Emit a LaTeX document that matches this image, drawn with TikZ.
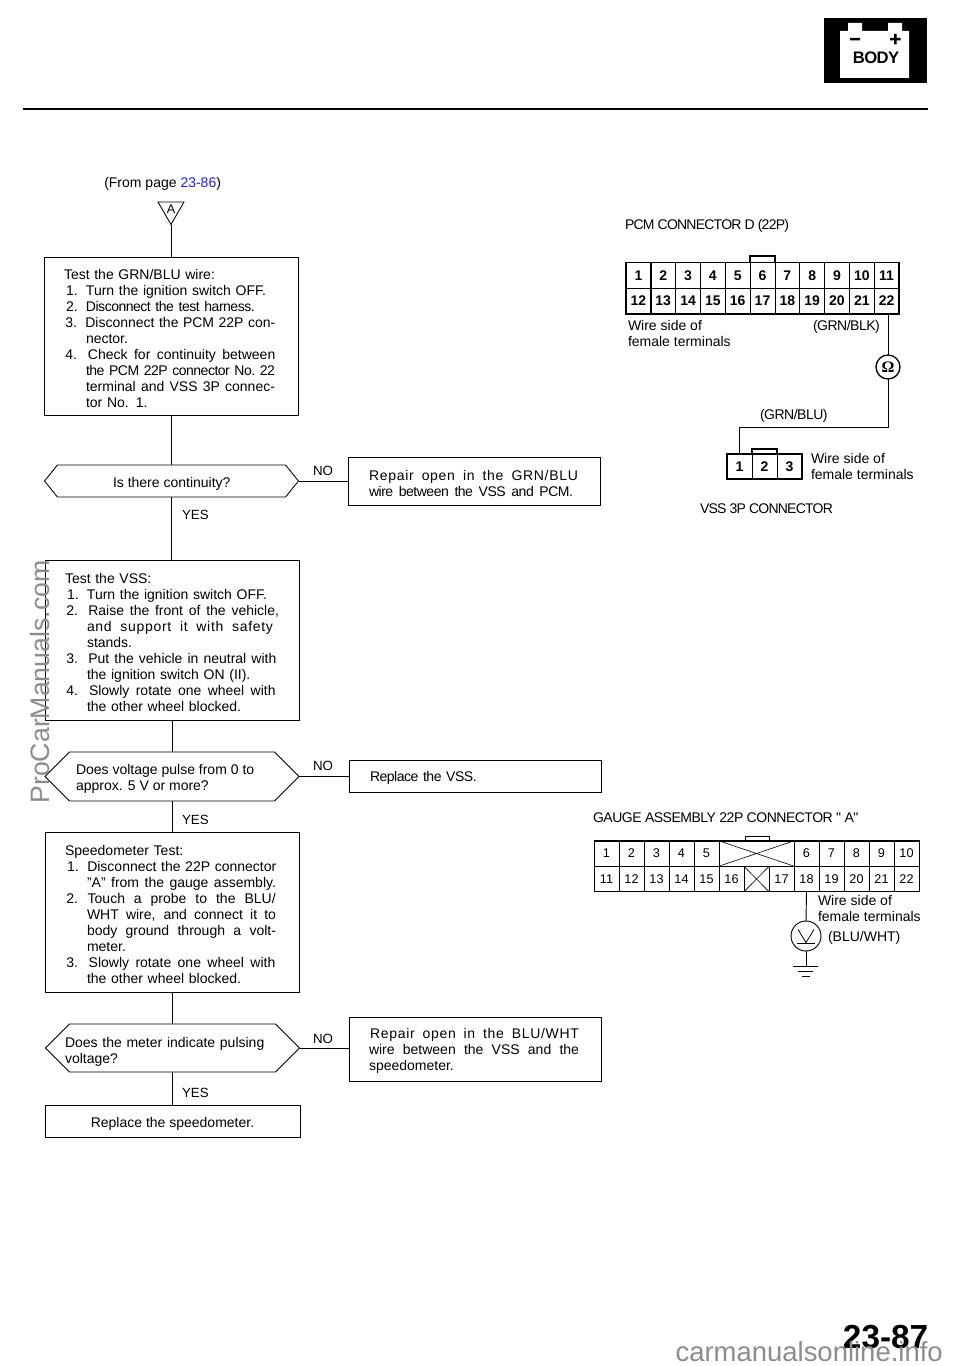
\documentclass[tikz,border=0pt]{standalone}
\usepackage{fontspec}
\setmainfont{Liberation Sans}
\newfontfamily\tightfont[LetterSpace=-3.5]{Liberation Sans}
\newfontfamily\titlefont[LetterSpace=-5.5]{Liberation Sans}
\newfontfamily\widefont[LetterSpace=5]{Liberation Sans}
\newfontfamily\serfont{Liberation Serif}
\usetikzlibrary{shapes.geometric,shapes.symbols,positioning}
\definecolor{pagelink}{RGB}{30,30,230}
\colorlet{markgrey}{black!45}
\newcommand{\numline}[2]{\hspace*{1.5pt}\makebox[15pt][l]{#1}#2}
\newcommand{\hangline}[1]{\hspace*{16.5pt}#1}
\newcommand{\fitline}[2]{\makebox[#1][s]{\spaceskip=.278em plus 2em minus .06em\relax\xspaceskip=\spaceskip #2}}
\newcommand{\numfit}[4]{\hspace*{1pt}\makebox[#1][l]{#2}\fitline{#3}{#4}}
\tikzset{
  bodytext/.style={font=\fontsize{10.5}{12}\selectfont},
  tinytext/.style={font=\fontsize{10.5}{12}\selectfont, inner sep=0pt, outer sep=0pt, anchor=west, align=left, yshift=-1.5pt},
  tighttext/.style={tinytext, font=\tightfont\fontsize{10.5}{12}\selectfont},
  titletext/.style={tinytext, font=\titlefont\fontsize{10.5}{12}\selectfont},
  answer/.style={tinytext, font=\fontsize{10}{12}\selectfont, yshift=0.75pt},
  stepbox/.style={bodytext, draw, line width=0.65pt, anchor=north west, align=left, inner xsep=15pt, inner ysep=0pt, outer sep=0pt, text width=#1, execute at begin node=\rule{0pt}{11pt}},
  askbox/.style={draw, line width=0.65pt, signal, signal to=east and west, signal pointer angle=#1, inner sep=0pt, outer sep=0pt, minimum width=190.5pt},
  flowline/.style={line width=0.65pt},
  pincell/.style={draw, line width=0.5pt, inner sep=0pt, outer sep=0pt, minimum width=18.7pt, minimum height=19.5pt, font=\fontsize{10.5}{12}\selectfont\bfseries},
  gaugecell/.style={draw, line width=0.45pt, inner sep=0pt, outer sep=0pt, minimum width=18.75pt, minimum height=19pt, font=\fontsize{9.5}{12}\selectfont},
  shellline/.style={line width=1pt},
  wire/.style={line width=0.7pt}
}
\begin{document}
\begin{tikzpicture}[x=0.75pt,y=-0.75pt]
  \useasboundingbox (0,0) rectangle (960,1366);
  \fill[white] (0,0) rectangle (960,1366);

  % Battery badge
  \fill[black] (824,18) rectangle (927,83);
  \fill[white] (840,31) rectangle (909,78) (848,23) rectangle (862,31) (888,23) rectangle (902,31);
  \fill[black] (850,38) rectangle (860,40.5) (894,34) rectangle (896.5,44.5) (890,38) rectangle (900.5,40.5);
  \node[font=\tightfont\fontsize{12.5}{14}\selectfont\bfseries, inner sep=0pt] (bodylabel) at (876,58) {BODY};
  \draw[line width=1.7pt] (23,109) -- (928,109);

  % Left column
  \node[bodytext, inner sep=0pt, anchor=west, yshift=-1.5pt] (frompage) at (104,182) {(From page \textcolor{pagelink}{23-86})};
  \node[draw, line width=0.65pt, regular polygon, regular polygon sides=3, shape border rotate=180, minimum size=22.5pt, inner sep=0pt, outer sep=0pt] (tria) at (171,209.5) {};
  \node[font=\fontsize{9.5}{12}\selectfont, inner sep=0pt] (trialabel) at (tria.center) {A};

  \node[stepbox=160.5pt, minimum height=118.5pt] (wiretest) at (44,257) {%
    Test the GRN/BLU wire:\\
    \numline{1.}{Turn the ignition switch OFF.}\\
    \numline{2.}{{\tightfont Disconnect the test harness.}}\\
    \numfit{15pt}{3.}{142.5pt}{Disconnect the PCM 22P con-}\\
    \hangline{nector.}\\
    \numfit{17pt}{4.}{140.5pt}{Check for continuity between}\\
    \hangline{\fitline{141.75pt}{\tightfont the PCM 22P connector No. 22}}\\
    \hangline{\fitline{141.75pt}{terminal and VSS 3P connec-}}\\
    \hangline{tor No. 1.}};

  \node[askbox=102, minimum height=24pt] (contask) at (171.5,481) {};
  \node[tinytext] (conttext) at (113,482) {Is there continuity?};

  \node[stepbox=160.5pt, minimum height=120pt] (vsstest) at (45,560) {%
    Test the VSS:\\
    \numline{1.}{Turn the ignition switch OFF.}\\
    \numfit{16.5pt}{2.}{143pt}{Raise the front of the vehicle,}\\
    \hangline{\fitline{139.5pt}{\widefont and support it with safety}}\\
    \hangline{stands.}\\
    \numfit{16.5pt}{3.}{141pt}{Put the vehicle in neutral with}\\
    \hangline{the ignition switch ON (II).}\\
    \numfit{17pt}{4.}{140pt}{Slowly rotate one wheel with}\\
    \hangline{the other wheel blocked.}};

  \node[askbox=90, minimum height=36.75pt] (pulseask) at (172,776.5) {};
  \node[tinytext] (pulsetext) at (76,777) {Does voltage pulse from 0 to\\approx. 5 V or more?};

  \node[stepbox=160.5pt, minimum height=120pt] (metertest) at (45,832) {%
    Speedometer Test:\\
    \hspace*{.5pt}\numfit{15.2pt}{1.}{141.75pt}{Disconnect the 22P connector}\\
    \hangline{\fitline{141.75pt}{"A" from the gauge assembly.}}\\
    \numfit{16pt}{2.}{141pt}{Touch a probe to the BLU/}\\
    \hangline{\fitline{141.75pt}{WHT wire, and connect it to}}\\
    \hangline{\fitline{141.75pt}{body ground through a volt-}}\\
    \hangline{meter.}\\
    \numfit{16.75pt}{3.}{140pt}{Slowly rotate one wheel with}\\
    \hangline{the other wheel blocked.}};

  \node[askbox=90, minimum height=36pt] (meterask) at (172.5,1048) {};
  \node[tinytext] (metertext) at (65,1050) {\fitline{149.5pt}{Does the meter indicate pulsing}\\voltage?};

  \node[draw, line width=0.65pt, bodytext, outer sep=0pt, minimum width=191.25pt, minimum height=24pt, inner sep=0pt] (replacemeter) at (172.5,1121) {\rule{0pt}{12pt}Replace the speedometer.};

  % Right column of repairs
  \node[stepbox=159pt, minimum height=36pt] (repairone) at (348,457) {%
    \hspace*{.75pt}\fitline{156.75pt}{\widefont Repair open in the GRN/BLU}\\
    \hspace*{.75pt}\fitline{153pt}{\tightfont wire between the VSS and PCM.}};
  \node[stepbox=159pt, minimum height=24pt] (repairtwo) at (349,760) {\hspace*{.75pt}{\tightfont Replace the VSS.}};
  \node[stepbox=159pt, minimum height=48pt] (repairthree) at (349,1017) {%
    \hspace*{.75pt}\fitline{156.75pt}{\widefont Repair open in the BLU/WHT}\\
    \fitline{157.5pt}{wire between the VSS and the}\\
    speedometer.};

  % Flow lines
  \draw[flowline] (tria.south) -- (tria.south |- wiretest.north);
  \draw[flowline] (contask.north |- wiretest.south) -- (contask.north);
  \draw[flowline] (contask.south) -- (contask.south |- vsstest.north);
  \draw[flowline] (pulseask.north |- vsstest.south) -- (pulseask.north);
  \draw[flowline] (pulseask.south) -- (pulseask.south |- metertest.north);
  \draw[flowline] (meterask.north |- metertest.south) -- (meterask.north);
  \draw[flowline] (meterask.south) -- (replacemeter.north);
  \draw[flowline] (contask.east) -- (contask.east -| repairone.west);
  \draw[flowline] (pulseask.east) -- (pulseask.east -| repairtwo.west);
  \draw[flowline] (meterask.east) -- (meterask.east -| repairthree.west);

  \node[answer] (noone) at (313,470) {NO};
  \node[answer] (yesone) at (182,514) {YES};
  \node[answer] (notwo) at (313,765) {NO};
  \node[answer] (yestwo) at (182,819) {YES};
  \node[answer] (nothree) at (313,1038) {NO};
  \node[answer] (yesthree) at (182,1092) {YES};

  % PCM connector
  \def\pw{24.82}
  \foreach \n in {1,...,11} {
    \pgfmathsetmacro{\xx}{626+(\n-1)*\pw+\pw/2}
    \pgfmathtruncatemacro{\m}{\n+11}
    \node[pincell] (p\n) at (\xx,275.5) {\n};
    \node[pincell] (p\m) at (\xx,301) {\m};
  }
  \draw[shellline] (p1.north west) rectangle (p22.south east);
  \draw[shellline] (p6.north west) -- ++(0,-6.5) -| (p6.north east);
  \node[titletext] (pcmtitle) at (625,224) {PCM CONNECTOR D (22P)};
  \node[tinytext] (pcmside) at (628,331) {Wire side of\\female terminals};
  \node[tighttext] (grnblk) at (813,325) {(GRN/BLK)};

  \node[draw, circle, line width=1pt, minimum size=18pt, inner sep=0pt, outer sep=0pt, font=\serfont\fontsize{12}{12}\selectfont\bfseries] (ohm) at (888,367) {Ω};
  \node[tighttext] (grnblu) at (760,414) {(GRN/BLU)};

  % VSS connector
  \foreach \n in {1,2,3} {
    \pgfmathsetmacro{\xx}{727+(\n-1)*25+12.5}
    \node[pincell, minimum width=18.75pt, minimum height=18.75pt] (v\n) at (\xx,466.5) {\n};
  }
  \draw[shellline] (v1.north west) rectangle (v3.south east);
  \draw[shellline] (v2.north west) -- ++(0,-5) -| (v2.north east);
  \coordinate (wirebend) at (888,427);
  \draw[wire] (p22.south -| ohm) -- (ohm.north);
  \draw[wire] (ohm.south) -- (wirebend) -| (v1.north);
  \node[tinytext] (vssside) at (811,464) {Wire side of\\female terminals};
  \node[titletext] (vsstitle) at (700,507) {VSS 3P CONNECTOR};

  % Gauge connector
  \foreach \n/\c in {1/0,2/1,3/2,4/3,5/4,6/8,7/9,8/10,9/11,10/12} {
    \pgfmathsetmacro{\xx}{594+\c*25+12.5}
    \node[gaugecell] (g\n) at (\xx,853.5) {\n};
  }
  \foreach \n/\c in {11/0,12/1,13/2,14/3,15/4,16/5,17/7,18/8,19/9,20/10,21/11,22/12} {
    \pgfmathsetmacro{\xx}{594+\c*25+12.5}
    \node[gaugecell] (g\n) at (\xx,879) {\n};
  }
  \node[gaugecell, minimum width=56.25pt] (gwide) at (756.5,853.5) {};
  \node[gaugecell] (gsmall) at (756.5,879) {};
  \draw[line width=0.45pt] (gwide.north west) -- (gwide.south east) (gwide.south west) -- (gwide.north east);
  \draw[line width=0.45pt] (gsmall.north west) -- (gsmall.south east) (gsmall.south west) -- (gsmall.north east);
  \draw[line width=0.7pt] (g1.north west) rectangle (g22.south east);
  \draw[line width=0.6pt] (745,841) -- (745,836) -- (769,836) -- (769,841);
  \node[tighttext] (gaugetitle) at (593,816) {GAUGE ASSEMBLY 22P CONNECTOR " A"};
  \node[tinytext] (gaugeside) at (818,906) {Wire side of\\female terminals};
  \node[tinytext] (bluwht) at (828,936) {(BLU/WHT)};

  \node[draw, circle, line width=0.7pt, minimum size=22.5pt, inner sep=0pt, outer sep=0pt] (volt) at (806,936) {};
  \draw[wire] (g18.south) -- (volt.north);
  \draw[line width=0.6pt] ([xshift=-6pt,yshift=5pt]volt.center) -- ([yshift=-5pt]volt.center) -- ([xshift=6pt,yshift=5pt]volt.center);
  \draw[line width=0.6pt] ([xshift=-7pt,yshift=-5.5pt]volt.center) -- ([xshift=7pt,yshift=-5.5pt]volt.center);
  \coordinate (groundtop) at (806,966);
  \draw[wire] (volt.south) -- (groundtop);
  \draw[line width=0.6pt] (793,966) -- (818,966) (798,971) -- (813,971) (802,976) -- (810,976);

  % Page number and marks
  \node[font=\fontsize{25}{26}\selectfont\bfseries, inner sep=0pt, anchor=east] (pagenum) at (928.5,1337) {23-87};
  \node[font=\fontsize{20}{26}\selectfont, text=markgrey, inner sep=0pt, rotate=90] (sidemark) at (40,682) {ProCarManuals.com};
  \node[font=\fontsize{20.6}{26}\selectfont, text=markgrey, inner sep=0pt, anchor=east] (footmark) at (943,1352) {carmanualsonline.info};
\end{tikzpicture}
\end{document}
